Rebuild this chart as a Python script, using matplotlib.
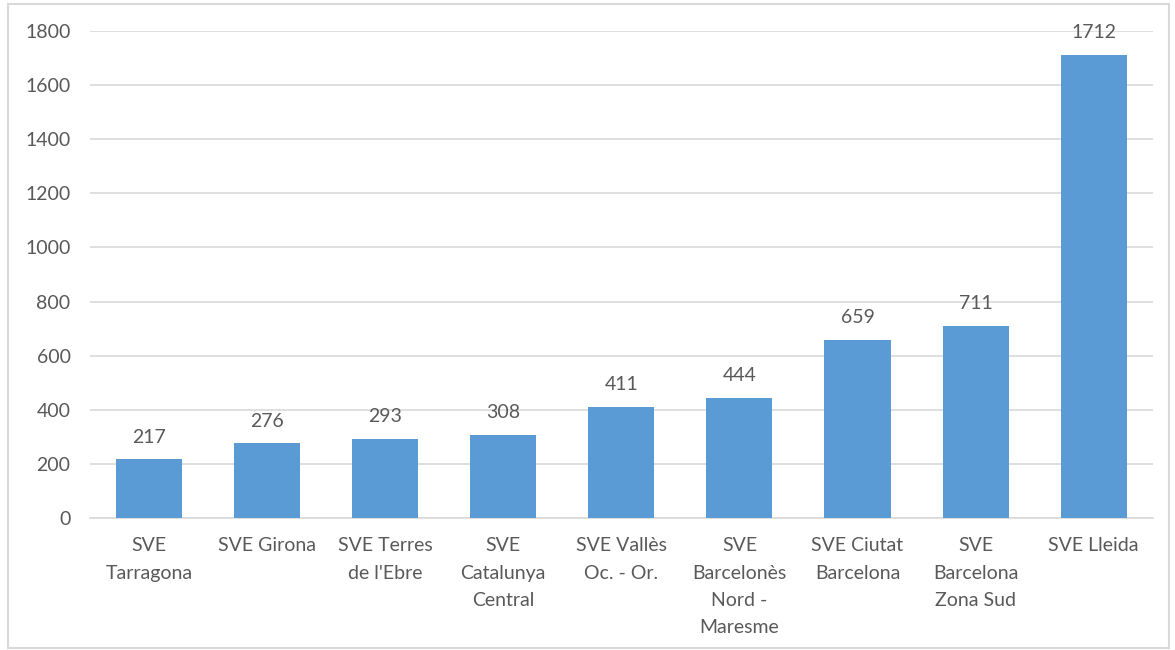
import matplotlib.pyplot as plt
from matplotlib.patches import Rectangle

plt.rcParams['font.family'] = ['Lato', 'DejaVu Sans']

categories = ["SVE\nTarragona", "SVE Girona", "SVE Terres\nde l'Ebre", "SVE\nCatalunya\nCentral",
              "SVE Vallès\nOc. - Or.", "SVE\nBarcelonès\nNord -\nMaresme", "SVE Ciutat\nBarcelona",
              "SVE\nBarcelona\nZona Sud", "SVE Lleida"]
values = [217, 276, 293, 308, 411, 444, 659, 711, 1712]
yticks = [0, 200, 400, 600, 800, 1000, 1200, 1400, 1600, 1800]

text_color = '#595959'
bar_color = '#5B9BD5'

fig = plt.figure(figsize=(11.75, 6.5), dpi=100)
ax = fig.add_axes([0.0766, 0.2031, 0.9044, 0.7492])

x = list(range(len(categories)))
bars = ax.bar(x, values, width=0.56, color=bar_color, zorder=3)

for xi, v in zip(x, values):
    ax.text(xi, v + 50, str(v), ha='center', va='bottom', fontsize=14, color=text_color)

ax.set_xlim(-0.5, len(categories) - 0.5)
ax.set_ylim(0, 1800)
ax.set_yticks(yticks)
ax.set_yticklabels([str(t) for t in yticks], fontsize=14, color=text_color)
ax.set_xticks(x)
ax.set_xticklabels(categories, fontsize=14, color=text_color, linespacing=1.72, va='top')
ax.tick_params(axis='both', length=0)
ax.tick_params(axis='y', pad=14)
ax.tick_params(axis='x', pad=14)

ax.grid(axis='y', color='#D9D9D9', linewidth=1.2, zorder=0)
for side in ['top', 'right', 'left']:
    ax.spines[side].set_visible(False)
ax.spines['bottom'].set_color('#D9D9D9')
ax.spines['bottom'].set_linewidth(1.2)

# light border round the chart area
fig.patches.append(Rectangle((8 / 1175, 2 / 650), 1 - 14 / 1175, 1 - 6 / 650,
                             transform=fig.transFigure, fill=False,
                             edgecolor='#D9D9D9', linewidth=1.5))

fig.savefig('out.png', dpi=100)
